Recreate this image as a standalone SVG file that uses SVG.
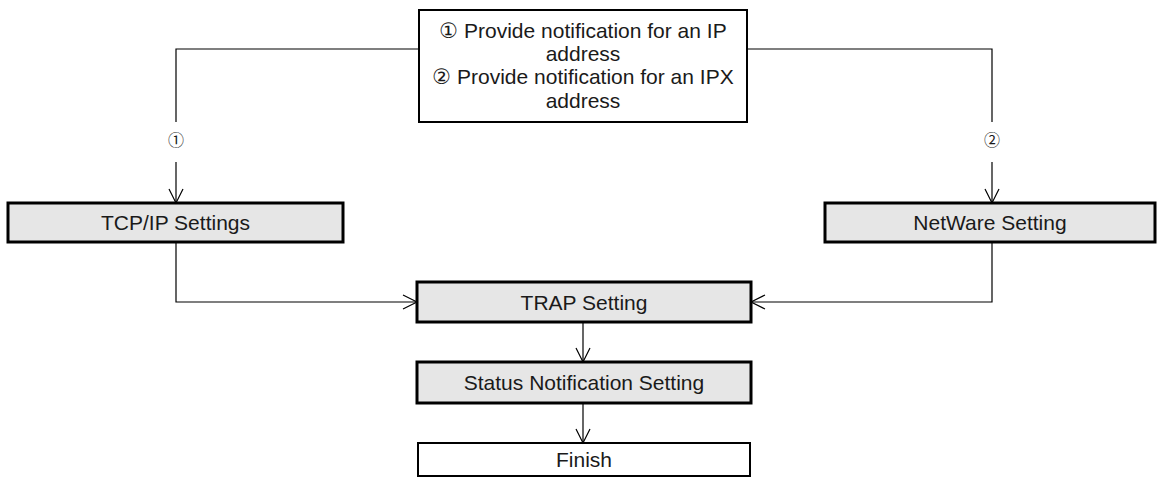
<svg xmlns="http://www.w3.org/2000/svg" width="1159" height="483" viewBox="0 0 1159 483">
<style>
text{font-family:"Liberation Sans",Arial,"DejaVu Sans",sans-serif;fill:#1a1a1a;text-anchor:middle}
.lbl{font-size:21px}
.num{font-size:16px;font-family:"Noto Sans CJK JP","DejaVu Sans",sans-serif}
.proc{fill:#e6e6e6;stroke:#000;stroke-width:3}
.plain{fill:#fff;stroke:#000;stroke-width:2}
.conn line,.conn path{stroke:#000;stroke-width:1.2;fill:none}
</style>
<g id="top">
<rect class="plain" x="419" y="10" width="328" height="112"/>
<text class="lbl" x="583" y="38">① Provide notification for an IP</text>
<text class="lbl" x="583" y="61">address</text>
<text class="lbl" x="583" y="84">② Provide notification for an IPX</text>
<text class="lbl" x="583" y="108">address</text>
</g>
<g id="tcpip">
<rect class="proc" x="8" y="203" width="335" height="39"/>
<text class="lbl" x="175.5" y="230">TCP/IP Settings</text>
</g>
<g id="netware">
<rect class="proc" x="825" y="203" width="330" height="39"/>
<text class="lbl" x="990" y="230">NetWare Setting</text>
</g>
<g id="trap">
<rect class="proc" x="417" y="282" width="334" height="40"/>
<text class="lbl" x="584" y="310">TRAP Setting</text>
</g>
<g id="status">
<rect class="proc" x="417" y="362" width="334" height="41"/>
<text class="lbl" x="584" y="390">Status Notification Setting</text>
</g>
<g id="finish">
<rect class="plain" x="418" y="443" width="332" height="33"/>
<text class="lbl" x="584" y="467">Finish</text>
</g>
<g class="conn" id="connectors">
<path d="M419 49 H176 V122"/>
<line x1="176" y1="162" x2="176" y2="203"/>
<path d="M169 189 L176 203 L183 189"/>
<text class="num" x="176" y="146">①</text>
<path d="M747 49 H992 V122"/>
<line x1="992" y1="162" x2="992" y2="203"/>
<path d="M985 189 L992 203 L999 189"/>
<text class="num" x="992" y="146">②</text>
<path d="M176 242 V302 H417"/>
<path d="M403 295 L417 302 L403 309"/>
<path d="M992 242 V302 H751"/>
<path d="M765 295 L751 302 L765 309"/>
<line x1="583" y1="322" x2="583" y2="362"/>
<path d="M576 348 L583 362 L590 348"/>
<line x1="583" y1="403" x2="583" y2="443"/>
<path d="M576 429 L583 443 L590 429"/>
</g>
</svg>
